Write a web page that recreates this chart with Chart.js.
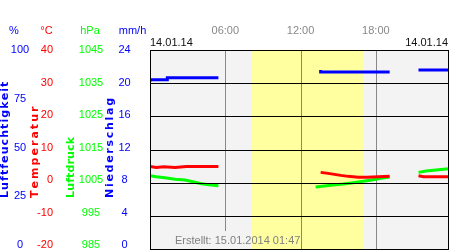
<!DOCTYPE html>
<html>
<head>
<meta charset="utf-8">
<script src="https://cdn.jsdelivr.net/npm/chart.js@4"></script>
<style>
  body { margin: 0; background: #fff; }
  canvas { display: block; }
</style>
</head>
<body>
<canvas id="wetter" width="450" height="250"></canvas>
<script>
// tick labels of the four left axes
const humTicks = [100, 75, 50, 25, 0];
const tempTicks = [40, 30, 20, 10, 0, -10, -20];
const presTicks = [1045, 1035, 1025, 1015, 1005, 995, 985];
const rainTicks = [24, 20, 16, 12, 8, 4, 0];
const hourTicks = [6, 12, 18];
const hourLabels = ['06:00', '12:00', '18:00'];

// daylight (hours)
const sunrise = 8.07;
const sunset = 16.97;

// humidity, stepped (hour -> %), null = no data
const humHours = [0, 1.38, 4.2, 5.45, 9, 13.6, 14.8, 19.1, 20, 21.4, 23.83];
const humVals  = [84, 85, 86, 86, null, 90, 89, 89, null, 90, 90];

// temperature (hour -> °C)
const tempHours = [0, 0.5, 1.1, 2, 2.9, 4, 5, 5.45, 9,
  13.6, 14.2, 14.7, 15.2, 15.8, 16.6, 17.3, 18.2, 19.1, 20,
  21.4, 21.8, 23.83];
const tempVals = [4.9, 4.6, 4.8, 4.6, 4.9, 4.9, 4.9, 4.9, null,
  3.1, 2.8, 2.5, 2.2, 1.9, 1.6, 1.6, 1.8, 1.9, null,
  2.1, 1.8, 1.8];

// pressure (hour -> hPa)
const presHours = [0, 0.5, 1.2, 2, 2.8, 3.5, 4.1, 4.7, 5.45, 9,
  13.2, 13.9, 14.6, 15.4, 16.2, 17.0, 17.8, 18.4, 19.1, 20,
  21.4, 22.0, 23.0, 23.83];
const presVals = [1007.1, 1006.8, 1006.5, 1006.0, 1005.8, 1005.2, 1004.7, 1004.4, 1004.1, null,
  1003.7, 1004.0, 1004.3, 1004.6, 1005.0, 1005.4, 1005.9, 1006.3, 1006.7, null,
  1008.1, 1008.5, 1008.9, 1009.2];

const dateLabel = '14.01.14';
const createdLabel = 'Erstellt: 15.01.2014 01:47';

const BLUE = '#0000ff', RED = '#ff0000', GREEN = '#00ff00';
const FONT = 'Liberation Sans, Arial, sans-serif';

function pts(xs, ys) {
  return xs.map((x, i) => ({ x: x, y: ys[i] }));
}

// rotated axis title, spread to a given length
function vText(ctx, text, cx, bottom, len, color) {
  ctx.save();
  ctx.translate(cx, bottom);
  ctx.rotate(-Math.PI / 2);
  ctx.font = 'bold 11px "DejaVu Sans", Verdana, sans-serif';
  ctx.fillStyle = color;
  ctx.textBaseline = 'middle';
  ctx.textAlign = 'left';
  let w = ctx.measureText(text).width;
  let gap = Math.max(0, (len - w) / (text.length - 1));
  let x = 0;
  for (const ch of text) {
    ctx.fillText(ch, x, 0);
    x += ctx.measureText(ch).width + gap;
  }
  ctx.restore();
}

const wetterPlugin = {
  id: 'wetter',
  beforeDatasetsDraw(chart) {
    const { ctx, chartArea: a, scales } = chart;
    ctx.save();
    ctx.fillStyle = '#f3f3f3';
    ctx.fillRect(a.left, a.top, a.right - a.left, a.bottom - a.top);
    let x1 = scales.x.getPixelForValue(sunrise);
    let x2 = scales.x.getPixelForValue(sunset);
    ctx.fillStyle = '#ffffa0';
    ctx.fillRect(x1, a.top, x2 - x1, a.bottom - a.top);
    ctx.strokeStyle = '#888';
    ctx.lineWidth = 1;
    hourTicks.forEach((h, i) => {
      let x = Math.round(scales.x.getPixelForValue(h)) + 0.5;
      ctx.beginPath();
      ctx.moveTo(x, a.top);
      ctx.lineTo(x, i === 0 ? 231 : a.bottom);
      ctx.stroke();
    });
    ctx.restore();
  },
  afterDatasetsDraw(chart) {
    const { ctx, chartArea: a, scales } = chart;
    ctx.save();
    ctx.strokeStyle = '#000';
    ctx.lineWidth = 1;
    tempTicks.forEach(t => {
      let y = Math.round(scales.yT.getPixelForValue(t)) + 0.5;
      ctx.beginPath();
      ctx.moveTo(a.left, y);
      ctx.lineTo(a.right, y);
      ctx.stroke();
    });
    ctx.strokeRect(a.left + 0.5, a.top + 0.5, a.right - a.left - 1, a.bottom - a.top);

    ctx.font = '11px ' + FONT;
    ctx.textBaseline = 'middle';
    // tick labels, squeezed a little to fit above the bottom edge
    const lab = (scale, ticks, x, align, color) => {
      ctx.fillStyle = color;
      ctx.textAlign = align;
      ticks.forEach(t => {
        let y = scale.getPixelForValue(t);
        y = a.top + (y - a.top) * 0.98;
        ctx.fillText(String(t), x, y);
      });
    };
    lab(scales.yH, humTicks, 20, 'center', BLUE);
    lab(scales.yT, tempTicks, 53, 'right', RED);
    lab(scales.yP, presTicks, 91, 'center', GREEN);
    lab(scales.yR, rainTicks, 124.5, 'center', BLUE);

    // units
    ctx.textAlign = 'center';
    ctx.fillStyle = BLUE; ctx.fillText('%', 14, 30.5);
    ctx.fillStyle = RED; ctx.fillText('°C', 46.5, 30.5);
    ctx.fillStyle = GREEN; ctx.fillText('hPa', 90, 30.5);
    ctx.fillStyle = BLUE; ctx.fillText('mm/h', 132.5, 30.5);

    // time labels
    ctx.fillStyle = '#888';
    hourTicks.forEach((h, i) => {
      ctx.fillText(hourLabels[i], scales.x.getPixelForValue(h), 30.5);
    });

    ctx.fillStyle = '#111';
    ctx.textAlign = 'left';
    ctx.fillText(dateLabel, 150, 42.5);
    ctx.textAlign = 'right';
    ctx.fillText(dateLabel, 448, 42.5);

    ctx.fillStyle = '#808080';
    ctx.textAlign = 'left';
    ctx.fillText(createdLabel, 175, 240.5);
    ctx.restore();

    vText(ctx, 'Luftfeuchtigkeit', 5.5, 198, 116, BLUE);
    vText(ctx, 'Temperatur', 35, 198, 90, RED);
    vText(ctx, 'Luftdruck', 71.5, 198, 61, GREEN);
    vText(ctx, 'Niederschlag', 110, 198, 100, BLUE);
  }
};

const lineStyle = {
  borderWidth: 3,
  pointRadius: 0,
  borderCapStyle: 'butt',
  spanGaps: false,
  fill: false
};

new Chart(document.getElementById('wetter').getContext('2d'), {
  type: 'line',
  data: {
    datasets: [
      Object.assign({ label: 'Luftfeuchtigkeit', data: pts(humHours, humVals), borderColor: BLUE, yAxisID: 'yH', stepped: 'after' }, lineStyle),
      Object.assign({ label: 'Temperatur', data: pts(tempHours, tempVals), borderColor: RED, yAxisID: 'yT' }, lineStyle),
      Object.assign({ label: 'Luftdruck', data: pts(presHours, presVals), borderColor: GREEN, yAxisID: 'yP' }, lineStyle)
    ]
  },
  options: {
    responsive: false,
    animation: false,
    layout: { padding: { left: 150, top: 50, right: 1, bottom: 1 } },
    plugins: { legend: { display: false }, tooltip: { enabled: false } },
    scales: {
      x: { type: 'linear', min: 0, max: 23.83, display: false },
      yH: { min: 0, max: 100, display: false },
      yT: { min: -20, max: 40, display: false },
      yP: { min: 985, max: 1045, display: false },
      yR: { min: 0, max: 24, display: false }
    }
  },
  plugins: [wetterPlugin]
});
</script>
</body>
</html>
